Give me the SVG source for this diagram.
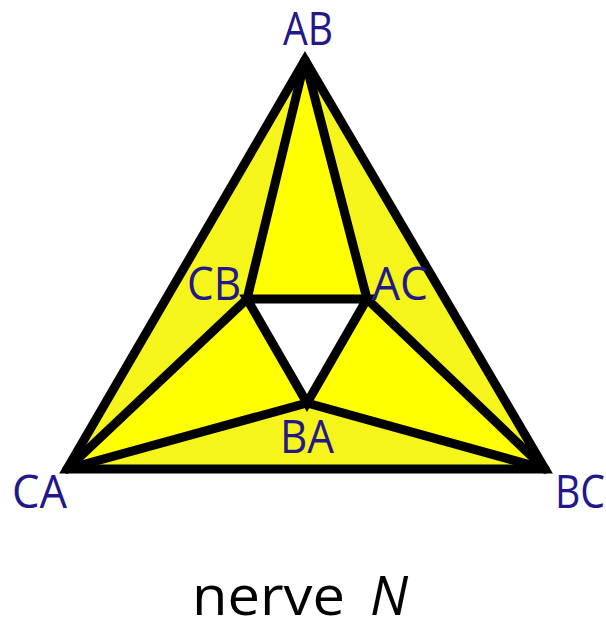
<svg xmlns="http://www.w3.org/2000/svg" width="606" height="624" viewBox="0 0 606 624">
<style>
.lt{fill:#f5f51c}
.br{fill:#ffff00}
.ed{stroke:#000;stroke-width:9;stroke-linejoin:miter;stroke-linecap:round;fill:none}
.lb{font-family:"Open Sans","DejaVu Sans",sans-serif;font-size:45px;fill:#24178a}
.cap{font-family:"Open Sans","DejaVu Sans",sans-serif;font-size:54px;fill:#000}
</style>
<rect width="606" height="624" fill="#fff"/>
<g id="faces">
<polygon class="lt" points="305,60 247,299 67,469"/>
<polygon class="lt" points="305,60 367,299 545,469"/>
<polygon class="lt" points="67,469 307,403 545,469"/>
<polygon class="br" points="305,60 247,299 367,299"/>
<polygon class="br" points="247,299 67,469 307,403"/>
<polygon class="br" points="367,299 307,403 545,469"/>
</g>
<g id="connectors" class="ed">
<polygon points="305,60 545,469 67,469"/>
<polygon points="247,299 367,299 307,403"/>
<line x1="305" y1="60" x2="247" y2="299"/>
<line x1="305" y1="60" x2="367" y2="299"/>
<line x1="67" y1="469" x2="247" y2="299"/>
<line x1="67" y1="469" x2="307" y2="403"/>
<line x1="545" y1="469" x2="367" y2="299"/>
<line x1="545" y1="469" x2="307" y2="403"/>
</g>
<g id="AB"><text class="lb" x="283" y="45" textLength="50" lengthAdjust="spacingAndGlyphs">AB</text></g>
<g id="CB"><text class="lb" x="187" y="300" textLength="54" lengthAdjust="spacingAndGlyphs">CB</text></g>
<g id="AC"><text class="lb" x="372" y="300" textLength="56" lengthAdjust="spacingAndGlyphs">AC</text></g>
<g id="BA"><text class="lb" x="280" y="453" textLength="54" lengthAdjust="spacingAndGlyphs">BA</text></g>
<g id="CA"><text class="lb" x="12" y="508" textLength="55" lengthAdjust="spacingAndGlyphs">CA</text></g>
<g id="BC"><text class="lb" x="555" y="508" textLength="50" lengthAdjust="spacingAndGlyphs">BC</text></g>
<g id="caption"><text class="cap" x="192" y="615" textLength="153" lengthAdjust="spacingAndGlyphs">nerve</text><text class="cap" x="370" y="615" font-style="italic">N</text></g>
</svg>
